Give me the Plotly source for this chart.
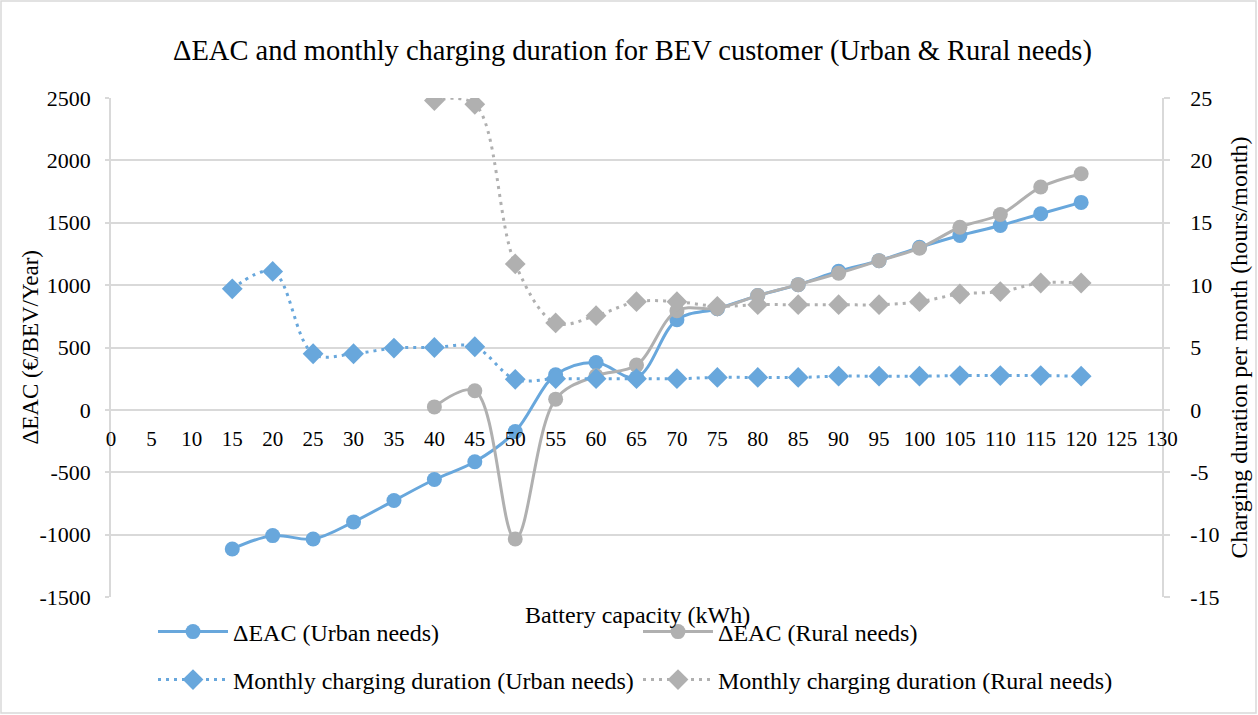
import plotly.graph_objects as go

capacity = [15, 20, 25, 30, 35, 40, 45, 50, 55, 60, 65, 70, 75, 80, 85, 90, 95, 100, 105, 110, 115, 120]
capacity_rural = [40, 45, 50, 55, 60, 65, 70, 75, 80, 85, 90, 95, 100, 105, 110, 115, 120]

eac_urban = [-1115, -1008, -1035, -898, -727, -558, -416, -174, 281, 380, 260, 723, 811, 916,
             1004, 1111, 1196, 1303, 1398, 1478, 1572, 1663]
eac_rural = [24, 153, -1035, 86, 273, 359, 795, 814, 916, 1004, 1095, 1196, 1296, 1464,
             1566, 1786, 1893]
dur_urban = [9.7, 11.1, 4.5, 4.5, 4.95, 5.0, 5.06, 2.45, 2.5, 2.5, 2.5, 2.5, 2.6, 2.6, 2.6,
             2.7, 2.7, 2.7, 2.75, 2.75, 2.75, 2.7]
dur_rural = [24.8, 24.5, 11.7, 6.97, 7.55, 8.67, 8.67, 8.3, 8.43, 8.43, 8.43, 8.43, 8.67,
             9.29, 9.48, 10.17, 10.17]

left_ticks = [-1500, -1000, -500, 0, 500, 1000, 1500, 2000, 2500]
right_ticks = [-15, -10, -5, 0, 5, 10, 15, 20, 25]
x_ticks = list(range(0, 131, 5))

BLUE = "#68A7DC"
GREY = "#B0B0B0"
GRID = "#D9D9D9"
FONT = "Liberation Serif"

fig = go.Figure()
fig.add_trace(go.Scatter(x=capacity, y=eac_urban, name="ΔEAC (Urban needs)",
                         mode="lines+markers", line=dict(color=BLUE, width=3, shape="spline"),
                         marker=dict(symbol="circle", size=15, color=BLUE), legend="legend"))
fig.add_trace(go.Scatter(x=capacity_rural, y=eac_rural, name="ΔEAC (Rural needs)",
                         mode="lines+markers", line=dict(color=GREY, width=3, shape="spline"),
                         marker=dict(symbol="circle", size=15, color=GREY), legend="legend"))
fig.add_trace(go.Scatter(x=capacity, y=dur_urban, name="Monthly charging duration (Urban needs)",
                         mode="lines+markers", yaxis="y2",
                         line=dict(color=BLUE, width=3, dash="3px,5px", shape="spline"),
                         marker=dict(symbol="diamond", size=16, color=BLUE), legend="legend2"))
fig.add_trace(go.Scatter(x=capacity_rural, y=dur_rural, name="Monthly charging duration (Rural needs)",
                         mode="lines+markers", yaxis="y2",
                         line=dict(color=GREY, width=3, dash="3px,5px", shape="spline"),
                         marker=dict(symbol="diamond", size=16, color=GREY), legend="legend2"))

W, H = 1258, 715
L, R, T, B = 111, 96, 98, 118
pw, ph = W - L - R, H - T - B

def px_x(p):
    return (p - L) / pw

def px_y(p):
    return (H - B - p) / ph

def lab(v):
    return str(v).replace("−", "-")

fig.update_layout(
    width=W, height=H,
    margin=dict(l=L, r=R, t=T, b=B, autoexpand=False),
    plot_bgcolor="white", paper_bgcolor="white",
    font=dict(family=FONT, size=21, color="#000000"),
    title=dict(text="ΔEAC and monthly charging duration for BEV customer (Urban & Rural needs)",
               x=(168 + 1097) / 2 / W, xanchor="center", y=1 - 50 / H, yanchor="middle",
               font=dict(family=FONT, size=28.5, color="#000000")),
    xaxis=dict(range=[0, 130], tickvals=x_ticks, ticktext=[lab(v) for v in x_ticks],
               showgrid=False, zeroline=False, automargin=False,
               showline=False, anchor="free", position=0.375, ticks="",
               ticklabelstandoff=14, tickfont=dict(size=21)),
    yaxis=dict(range=[-1500, 2500], tickvals=left_ticks, ticktext=[lab(v) for v in left_ticks],
               showgrid=True, gridcolor=GRID, gridwidth=1.5, automargin=False,
               zeroline=False, showline=True, linecolor=GRID, linewidth=1.5,
               ticks="outside", ticklen=4, tickcolor=GRID, tickwidth=1.5,
               ticklabelstandoff=10, tickfont=dict(size=22)),
    yaxis2=dict(range=[-15, 25], tickvals=right_ticks, ticktext=[lab(v) for v in right_ticks],
                overlaying="y", side="right", showgrid=False, automargin=False,
                zeroline=False, showline=True, linecolor=GRID, linewidth=1.5,
                ticks="outside", ticklen=6, tickcolor=GRID, tickwidth=1.5,
                ticklabelstandoff=16, tickfont=dict(size=22),
                title=dict(text="Charging duration per month (hours/month)", standoff=12,
                           font=dict(size=24))),
    legend=dict(orientation="h", x=px_x(153), xanchor="left", y=px_y(632), yanchor="middle",
                entrywidth=400, entrywidthmode="pixels", font=dict(size=24),
                bgcolor="rgba(0,0,0,0)", itemwidth=70),
    legend2=dict(orientation="h", x=px_x(153), xanchor="left", y=px_y(680), yanchor="middle",
                 entrywidth=400, entrywidthmode="pixels", font=dict(size=24),
                 bgcolor="rgba(0,0,0,0)", itemwidth=70),
    showlegend=True,
    annotations=[
        dict(text="Battery capacity (kWh)", x=px_x(637), y=px_y(615),
             xref="paper", yref="paper", showarrow=False, xanchor="center",
             yanchor="middle", font=dict(size=24, family=FONT)),
        dict(text="ΔEAC (€/BEV/Year)", x=px_x(30), y=0.5, textangle=-90,
             xref="paper", yref="paper", showarrow=False, xanchor="center",
             yanchor="middle", font=dict(size=23, family=FONT)),
    ],
    shapes=[dict(type="rect", xref="paper", yref="paper",
                 x0=px_x(1), x1=px_x(1256), y0=px_y(713), y1=px_y(1),
                 line=dict(color=GRID, width=1.5), layer="below")],
)

fig.write_html("out.html", config={"displayModeBar": False},
               post_script="document.body.style.margin='0';document.body.style.overflow='hidden';")
